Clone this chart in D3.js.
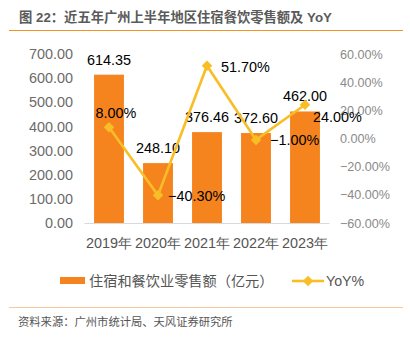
<!DOCTYPE html>
<html>
<head>
<meta charset="utf-8">
<script src="https://cdn.jsdelivr.net/npm/d3@7"></script>
<style>
  html, body { margin: 0; padding: 0; background: #fff; }
  svg { display: block; font-family: "Liberation Sans", "Noto Sans CJK SC", sans-serif; }
</style>
</head>
<body>
<svg id="chart" width="410" height="339"></svg>
<script>
// Data
const years = ["2019年", "2020年", "2021年", "2022年", "2023年"];
const sales = [614.35, 248.10, 376.46, 372.60, 462.00];   // 住宿和餐饮业零售额（亿元）
const yoy = [8.00, -40.30, 51.70, -1.00, 24.00];          // YoY%
const leftTicks = [0, 100, 200, 300, 400, 500, 600, 700];
const rightTicks = [-60, -40, -20, 0, 20, 40, 60];

// Label offsets for the YoY labels (dx, dy, anchor)
const yoyLabelPos = [
  { dx: 7, dy: -14, anchor: "middle" },
  { dx: 10, dy: 1, anchor: "start" },
  { dx: 14, dy: 1, anchor: "start" },
  { dx: 14, dy: 0, anchor: "start" },
  { dx: 8, dy: 12, anchor: "start" }
];

const svg = d3.select("#chart");
const orange = "#F5841F";
const yellow = "#F9BE26";

const x = d3.scaleBand().domain(years).range([84.5, 329.5]).paddingInner(0.39).paddingOuter(0.195);
const yL = d3.scaleLinear().domain([0, 700]).range([223, 54]);
const yR = d3.scaleLinear().domain([-60, 60]).range([223, 54]);

// Title
svg.append("text").attr("x", 19).attr("y", 22)
  .attr("font-size", 13.3).attr("font-weight", "bold").attr("fill", "#5a5a5a")
  .text("图 22：近五年广州上半年地区住宿餐饮零售额及 YoY");
svg.append("line").attr("x1", 9).attr("x2", 403).attr("y1", 30.5).attr("y2", 30.5)
  .attr("stroke", "#F39325").attr("stroke-width", 1.2);

// Left axis
const gL = svg.append("g").attr("transform", "translate(73,0)")
  .call(d3.axisLeft(yL).tickValues(leftTicks).tickFormat(d3.format(".2f")).tickSize(0).tickPadding(0));
gL.select(".domain").remove();
gL.selectAll("text").attr("font-size", 14.4).attr("fill", "#6b6b6b").attr("font-family", "Liberation Sans, sans-serif");

// Right axis
const gR = svg.append("g").attr("transform", "translate(340,0)")
  .call(d3.axisRight(yR).tickValues(rightTicks).tickFormat(d => d3.format(".2f")(d) + "%").tickSize(0).tickPadding(0));
gR.select(".domain").remove();
gR.selectAll("text").attr("font-size", 12.6).attr("fill", "#8a8a8a").attr("font-family", "Liberation Sans, sans-serif");

// Bars
svg.append("g").selectAll("rect").data(sales).join("rect")
  .attr("x", (d, i) => x(years[i]))
  .attr("width", x.bandwidth())
  .attr("y", d => yL(d))
  .attr("height", d => yL(0) - yL(d))
  .attr("fill", orange);

// Baseline
svg.append("line").attr("x1", 84.5).attr("x2", 329.5).attr("y1", 223.5).attr("y2", 223.5)
  .attr("stroke", "#d9d9d9").attr("stroke-width", 1.2);

// Bottom axis labels
const gB = svg.append("g").attr("transform", "translate(0,238)")
  .call(d3.axisBottom(x).tickSize(0).tickPadding(0));
gB.select(".domain").remove();
gB.selectAll("text").attr("font-size", 14.4).attr("fill", "#555").attr("dy", "0.71em");

// Bar value labels
svg.append("g").selectAll("text").data(sales).join("text")
  .attr("x", (d, i) => x(years[i]) + x.bandwidth() / 2)
  .attr("y", d => yL(d) - 10)
  .attr("text-anchor", "middle")
  .attr("font-size", 14.4).attr("fill", "#000")
  .text(d => d3.format(".2f")(d));

// YoY line
const cx = i => x(years[i]) + x.bandwidth() / 2;
svg.append("path").datum(yoy)
  .attr("d", d3.line().x((d, i) => cx(i)).y(d => yR(d)))
  .attr("fill", "none").attr("stroke", yellow).attr("stroke-width", 2.6);

const diamond = d3.symbol().type(d3.symbolDiamond2).size(70);
svg.append("g").selectAll("path").data(yoy).join("path")
  .attr("transform", (d, i) => `translate(${cx(i)},${yR(d)})`)
  .attr("d", diamond).attr("fill", yellow);

// YoY labels
svg.append("g").selectAll("text").data(yoy).join("text")
  .attr("x", (d, i) => cx(i) + yoyLabelPos[i].dx)
  .attr("y", (d, i) => yR(d) + yoyLabelPos[i].dy)
  .attr("dy", "0.35em")
  .attr("text-anchor", (d, i) => yoyLabelPos[i].anchor)
  .attr("font-size", 14.4).attr("fill", "#000")
  .text(d => d3.format(".2f")(d) + "%");

// Legend
svg.append("rect").attr("x", 60).attr("y", 277).attr("width", 25).attr("height", 7).attr("fill", orange);
svg.append("text").attr("x", 89).attr("y", 281).attr("dy", "0.35em")
  .attr("font-size", 14.2).attr("fill", "#555").text("住宿和餐饮业零售额（亿元）");
svg.append("line").attr("x1", 292).attr("x2", 324).attr("y1", 281).attr("y2", 281)
  .attr("stroke", yellow).attr("stroke-width", 2.6);
svg.append("path").attr("transform", "translate(308,281)").attr("d", diamond).attr("fill", yellow);
svg.append("text").attr("x", 326).attr("y", 281).attr("dy", "0.35em")
  .attr("font-size", 14.2).attr("fill", "#555").text("YoY%");

// Footer
svg.append("line").attr("x1", 9).attr("x2", 403).attr("y1", 307.5).attr("y2", 307.5)
  .attr("stroke", "#F8C9A0").attr("stroke-width", 1.2);
svg.append("text").attr("x", 18).attr("y", 322).attr("dy", "0.35em")
  .attr("font-size", 11.3).attr("fill", "#555").text("资料来源：广州市统计局、天风证券研究所");
</script>
</body>
</html>
